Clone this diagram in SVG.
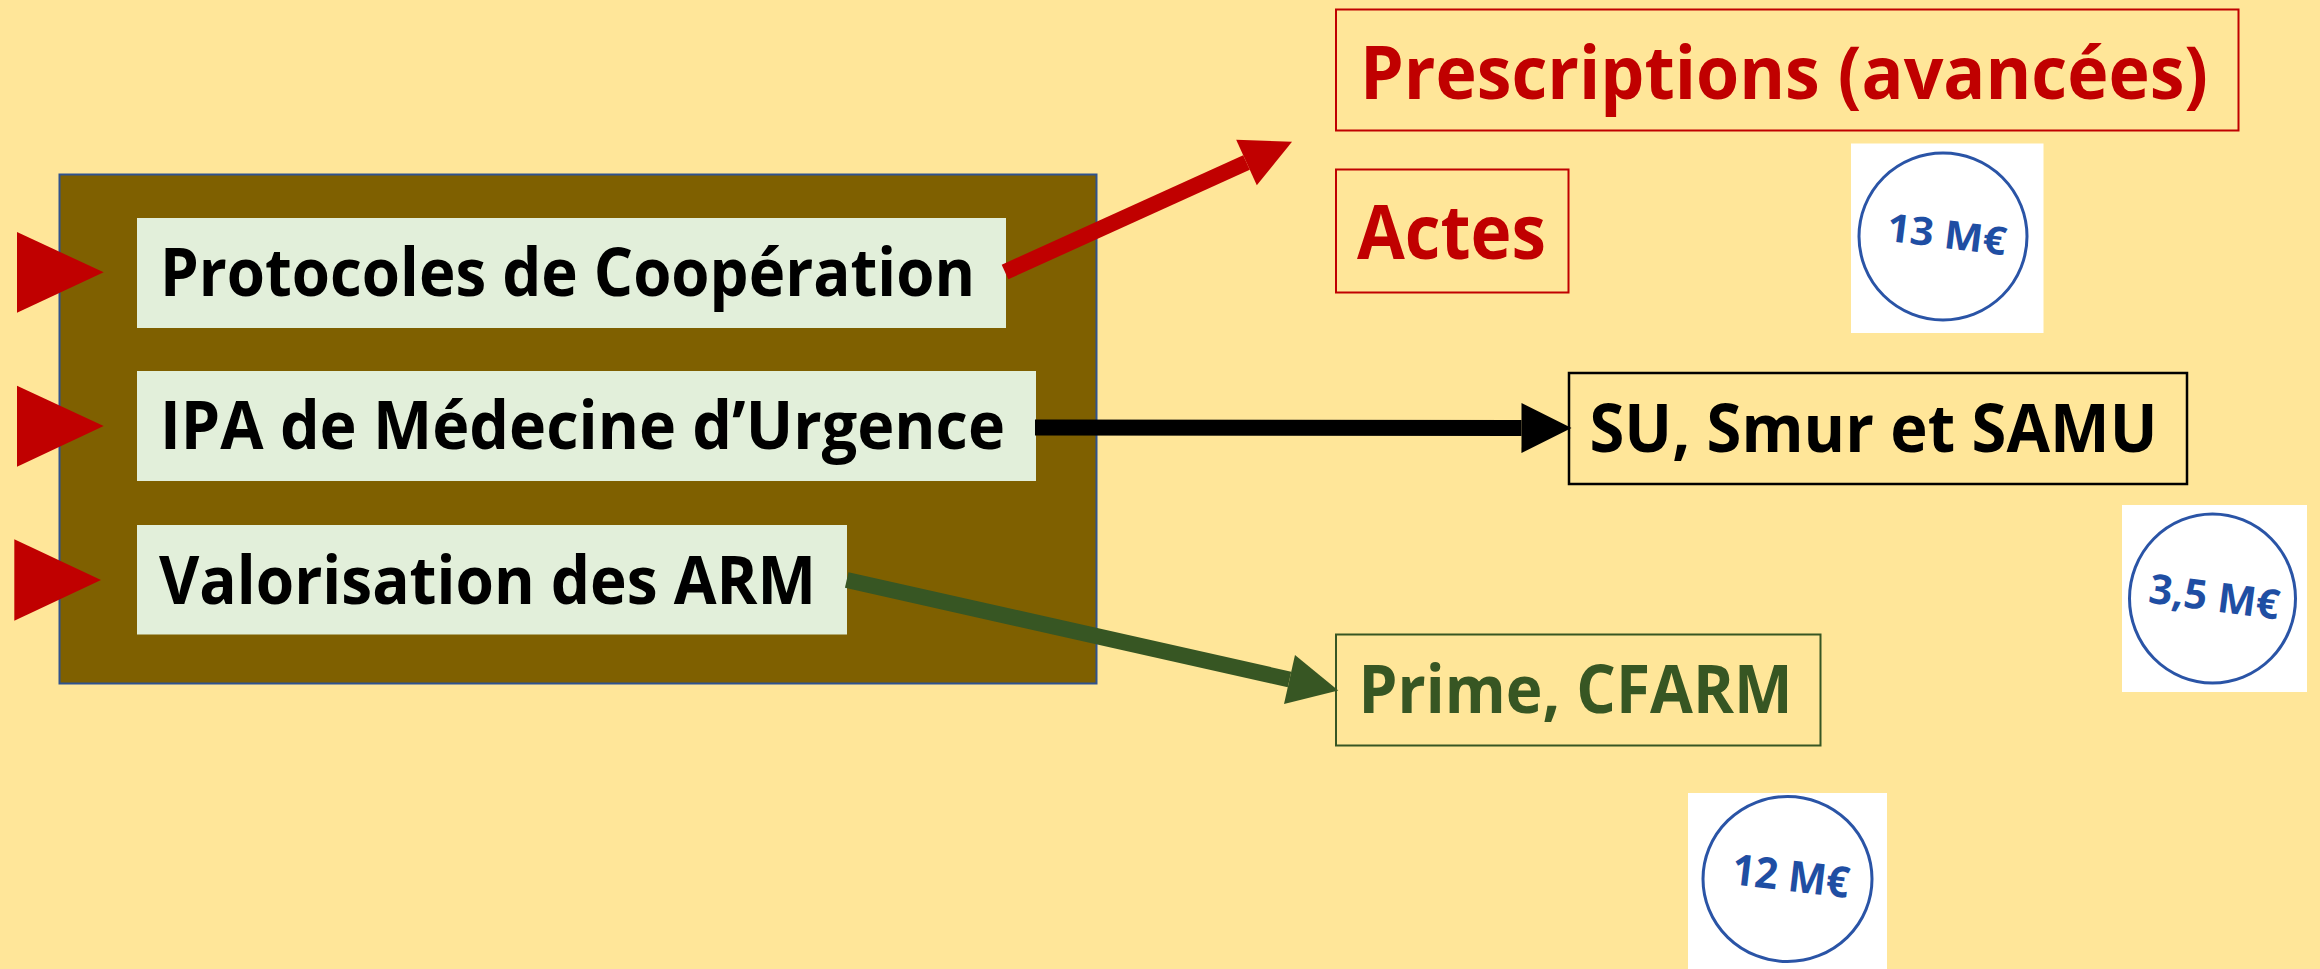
<svg xmlns="http://www.w3.org/2000/svg" width="2320" height="969" viewBox="0 0 2320 969">
<defs>
<style>
.t{font-family:"Open Sans","Noto Sans","Liberation Sans",sans-serif;font-weight:700}
.item{fill:#E2EFDA}
.itxt{font-size:66px;fill:#000}
.tri{fill:#C00000}
.badge-bg{fill:#FFFFFF}
.badge-c{fill:none;stroke:#2A54A6;stroke-width:3}
.badge-t{fill:#1F4EA3;text-anchor:middle}
</style>
<marker id="hRed" markerUnits="userSpaceOnUse" markerWidth="50" markerHeight="50" refX="0" refY="23.5" orient="auto" viewBox="0 0 47 47" overflow="visible"><path d="M0,0 L47,23.5 L0,47 Z" fill="#C00000"/></marker>
<marker id="hBlack" markerUnits="userSpaceOnUse" markerWidth="50" markerHeight="50" refX="0" refY="23.5" orient="auto" viewBox="0 0 47 47" overflow="visible"><path d="M0,0 L47,23.5 L0,47 Z" fill="#000000"/></marker>
<marker id="hGreen" markerUnits="userSpaceOnUse" markerWidth="50" markerHeight="50" refX="0" refY="23.5" orient="auto" viewBox="0 0 47 47" overflow="visible"><path d="M0,0 L47,23.5 L0,47 Z" fill="#375623"/></marker>
</defs>
<rect x="0" y="0" width="2320" height="969" fill="#FFE699"/>

<g id="main-box">
<rect x="59.5" y="174.5" width="1037" height="509" fill="#7F6000" stroke="#2F528F" stroke-width="2"/>
</g>

<g id="node-protocoles">
<rect class="item" x="137" y="218" width="869" height="110"/>
<text class="t itxt" x="160" y="295.5" textLength="815" lengthAdjust="spacingAndGlyphs">Protocoles de Coopération</text>
</g>
<g id="node-ipa">
<rect class="item" x="137" y="371" width="899" height="110"/>
<text class="t itxt" x="160" y="449" textLength="845" lengthAdjust="spacingAndGlyphs">IPA de Médecine d’Urgence</text>
</g>
<g id="node-arm">
<rect class="item" x="137" y="525" width="710" height="109.5"/>
<text class="t itxt" x="159" y="603.5" textLength="657" lengthAdjust="spacingAndGlyphs">Valorisation des ARM</text>
</g>

<g id="input-triangles">
<polygon class="tri" points="17,232 103.7,272.3 17,312.7"/>
<polygon class="tri" points="17,385.7 103.7,426 17,466.7"/>
<polygon class="tri" points="14.3,539.3 101,580 14.3,620.7"/>
</g>

<g id="node-prescriptions">
<rect x="1336" y="9.5" width="902.5" height="121" fill="none" stroke="#C00000" stroke-width="2"/>
<text class="t" x="1360" y="98.5" font-size="74" fill="#C00000" textLength="848" lengthAdjust="spacingAndGlyphs">Prescriptions (avancées)</text>
</g>
<g id="node-actes">
<rect x="1336" y="169.5" width="232.5" height="123" fill="none" stroke="#C00000" stroke-width="2"/>
<text class="t" x="1357" y="259.3" font-size="75" fill="#C00000" textLength="189" lengthAdjust="spacingAndGlyphs">Actes</text>
</g>
<g id="node-su">
<rect x="1569" y="373" width="618" height="111" fill="none" stroke="#000000" stroke-width="2.5"/>
<text class="t" x="1589.5" y="452" font-size="66" fill="#000" textLength="568" lengthAdjust="spacingAndGlyphs">SU, Smur et SAMU</text>
</g>
<g id="node-prime">
<rect x="1336" y="634.5" width="484.5" height="111" fill="none" stroke="#375623" stroke-width="2"/>
<text class="t" x="1358.5" y="712.7" font-size="66" fill="#375623" textLength="434" lengthAdjust="spacingAndGlyphs">Prime, CFARM</text>
</g>

<g id="badge-13">
<rect class="badge-bg" x="1851" y="143.5" width="192.5" height="189.5"/>
<ellipse class="badge-c" cx="1943" cy="236.5" rx="84" ry="83.5"/>
<text class="t badge-t" x="1945" y="248" font-size="39" textLength="120" lengthAdjust="spacingAndGlyphs" transform="rotate(7 1945 248)">13 M€</text>
</g>
<g id="badge-35">
<rect class="badge-bg" x="2122" y="505" width="185" height="187"/>
<ellipse class="badge-c" cx="2212.5" cy="598.5" rx="83" ry="84.5"/>
<text class="t badge-t" x="2212.5" y="611" font-size="41" textLength="131" lengthAdjust="spacingAndGlyphs" transform="rotate(7.5 2212.5 611)">3,5 M€</text>
</g>
<g id="badge-12">
<rect class="badge-bg" x="1688" y="793" width="199" height="176"/>
<ellipse class="badge-c" cx="1787.5" cy="879" rx="84.5" ry="82.5"/>
<text class="t badge-t" x="1789" y="891" font-size="43" textLength="118" lengthAdjust="spacingAndGlyphs" transform="rotate(6.8 1789 891)">12 M€</text>
</g>

<g id="connectors" fill="none">
<line x1="1005" y1="272" x2="1246.5" y2="162.5" stroke="#C00000" stroke-width="16" marker-end="url(#hRed)"/>
<line x1="1035" y1="427.5" x2="1521.5" y2="428" stroke="#000000" stroke-width="16" marker-end="url(#hBlack)"/>
<line x1="846.7" y1="580" x2="1289.5" y2="679.5" stroke="#375623" stroke-width="16" marker-end="url(#hGreen)"/>
</g>
</svg>
